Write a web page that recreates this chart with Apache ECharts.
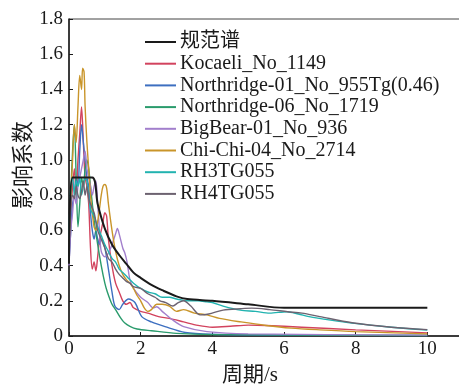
<!DOCTYPE html>
<html>
<head>
<meta charset="utf-8">
<script src="https://cdn.jsdelivr.net/npm/echarts@6/dist/echarts.min.js"></script>
<style>html,body{margin:0;padding:0;background:#fff}#c{width:459px;height:387px}</style>
</head>
<body>
<div id="c"></div>
<script>
const seriesNames = ['规范谱','Kocaeli_No_1149','Northridge-01_No_955Tg(0.46)','Northridge-06_No_1719','BigBear-01_No_936','Chi-Chi-04_No_2714','RH3TG055','RH4TG055'];
const seriesColors = ['#1a1a1a','#d2435e','#3d6fc0','#2a9b6c','#a27fcc','#c9952a','#22b3b0','#6c6270'];
const xTicks = [0,2,4,6,8,10];
const yTicks = [0,0.2,0.4,0.6,0.8,1.0,1.2,1.4,1.6,1.8];

const codeSpectrum = [[0,0.41],[0.1,0.9],[0.65,0.9],[0.8,0.75],[1.0,0.61],[1.2,0.52],[1.4,0.46],[1.6,0.41],[1.8,0.36],[2.0,0.33],[2.3,0.29],[2.6,0.26],[3.0,0.225],[3.3,0.21],[4,0.2],[5,0.18],[6,0.16],[10,0.16]];
const kocaeli = [[0,0.45],[0.05,0.7],[0.1,0.85],[0.15,0.95],[0.2,0.8],[0.25,1.0],[0.3,1.15],[0.35,1.3],[0.4,1.1],[0.45,0.9],[0.5,0.85],[0.55,0.75],[0.6,0.5],[0.65,0.38],[0.7,0.42],[0.75,0.37],[0.8,0.45],[0.85,0.55],[0.9,0.6],[0.95,0.65],[1.0,0.7],[1.05,0.68],[1.1,0.55],[1.2,0.4],[1.3,0.3],[1.4,0.25],[1.5,0.2],[1.6,0.18],[1.7,0.19],[1.8,0.16],[2.0,0.14],[2.2,0.13],[2.5,0.11],[2.8,0.1],[3.2,0.08],[3.6,0.06],[4,0.05],[4.5,0.055],[5,0.062],[5.5,0.06],[6.5,0.05],[8,0.035],[10,0.018]];
const northridge01 = [[0,0.42],[0.05,0.6],[0.1,0.75],[0.15,0.8],[0.2,0.9],[0.25,0.85],[0.3,1.05],[0.35,1.2],[0.4,1.1],[0.45,1.0],[0.5,0.9],[0.55,0.85],[0.6,0.7],[0.65,0.6],[0.7,0.55],[0.75,0.6],[0.8,0.55],[0.85,0.52],[0.9,0.55],[1.0,0.5],[1.1,0.38],[1.2,0.25],[1.28,0.17],[1.4,0.15],[1.5,0.18],[1.66,0.21],[1.84,0.19],[2.03,0.11],[2.3,0.08],[2.68,0.053],[3.24,0.02],[4,0.01],[6,0.005],[10,0.003]];
const northridge06 = [[0,0.45],[0.05,0.8],[0.1,1.05],[0.15,1.2],[0.2,0.9],[0.25,0.62],[0.3,0.75],[0.35,0.9],[0.4,0.85],[0.45,0.95],[0.5,1.0],[0.55,0.95],[0.6,0.85],[0.7,0.66],[0.8,0.52],[0.9,0.4],[1.0,0.3],[1.07,0.25],[1.2,0.18],[1.3,0.15],[1.45,0.1],[1.55,0.075],[1.7,0.055],[1.9,0.04],[2.3,0.03],[3,0.015],[4,0.008],[10,0.003]];
const bigBear = [[0,0.4],[0.05,0.6],[0.1,0.7],[0.15,0.8],[0.2,0.75],[0.25,0.85],[0.3,0.9],[0.35,0.95],[0.4,1.0],[0.45,1.05],[0.5,0.95],[0.55,0.9],[0.6,0.85],[0.65,0.8],[0.7,0.85],[0.75,0.88],[0.8,0.75],[0.85,0.6],[0.9,0.48],[1.0,0.45],[1.1,0.47],[1.2,0.52],[1.3,0.58],[1.35,0.61],[1.4,0.58],[1.5,0.5],[1.56,0.47],[1.62,0.42],[1.7,0.32],[1.8,0.27],[2.0,0.22],[2.2,0.19],[2.35,0.16],[2.45,0.166],[2.6,0.14],[2.9,0.09],[3.2,0.053],[3.85,0.025],[5,0.012],[10,0.005]];
const chiChi = [[0,0.5],[0.05,0.8],[0.1,1.0],[0.15,1.2],[0.2,1.1],[0.25,1.3],[0.3,1.48],[0.35,1.4],[0.38,1.52],[0.42,1.5],[0.45,1.3],[0.5,1.1],[0.55,0.95],[0.6,0.8],[0.65,0.7],[0.7,0.62],[0.75,0.6],[0.8,0.65],[0.85,0.72],[0.9,0.8],[0.95,0.85],[1.0,0.86],[1.05,0.84],[1.1,0.75],[1.2,0.6],[1.3,0.48],[1.4,0.4],[1.5,0.35],[1.6,0.32],[1.7,0.3],[1.8,0.27],[1.9,0.23],[2.0,0.2],[2.1,0.16],[2.2,0.14],[2.3,0.15],[2.45,0.18],[2.6,0.18],[2.8,0.17],[3.0,0.14],[3.2,0.15],[3.5,0.13],[3.85,0.12],[4.2,0.1],[4.8,0.08],[5.5,0.06],[6.2,0.045],[7,0.035],[8,0.025],[10,0.012]];
const rh3 = [[0,0.55],[0.05,0.85],[0.1,0.9],[0.15,0.8],[0.2,0.88],[0.25,0.85],[0.3,0.9],[0.35,0.8],[0.4,0.85],[0.45,0.9],[0.5,0.88],[0.55,0.8],[0.6,0.72],[0.7,0.68],[0.8,0.62],[0.9,0.57],[1.0,0.52],[1.1,0.48],[1.2,0.44],[1.3,0.42],[1.4,0.38],[1.5,0.36],[1.6,0.34],[1.7,0.32],[1.8,0.3],[2.0,0.27],[2.2,0.25],[2.4,0.24],[2.6,0.22],[2.8,0.22],[3.0,0.21],[3.3,0.2],[3.6,0.2],[3.85,0.194],[4.0,0.19],[4.3,0.17],[4.78,0.147],[5.2,0.14],[5.6,0.13],[6.08,0.138],[6.4,0.125],[6.7,0.11],[7.3,0.09],[7.9,0.073],[9,0.05],[10,0.034]];
const rh4 = [[0,0.5],[0.05,0.75],[0.1,0.8],[0.15,0.78],[0.2,0.85],[0.25,0.8],[0.3,0.78],[0.35,0.82],[0.4,0.88],[0.45,0.8],[0.5,0.85],[0.55,0.78],[0.6,0.75],[0.7,0.7],[0.8,0.6],[0.9,0.55],[1.0,0.5],[1.1,0.44],[1.2,0.42],[1.3,0.38],[1.4,0.35],[1.5,0.33],[1.6,0.31],[1.7,0.3],[1.8,0.28],[2.0,0.27],[2.2,0.24],[2.4,0.22],[2.54,0.2],[2.7,0.19],[2.9,0.17],[3.05,0.19],[3.2,0.2],[3.4,0.17],[3.66,0.12],[3.9,0.125],[4.3,0.147],[4.8,0.155],[5.1,0.158],[5.6,0.15],[6.1,0.138],[6.5,0.13],[7,0.11],[7.9,0.075],[9,0.05],[10,0.036]];

const seriesData = [codeSpectrum,kocaeli,northridge01,northridge06,bigBear,chiChi,rh3,rh4];

const FONT = "'Liberation Serif','Noto Sans CJK SC',serif";
const chart = echarts.init(document.getElementById('c'));
const order = [1,2,3,4,5,6,7,0];
chart.setOption({
  animation:false,
  backgroundColor:'#fff',
  grid:{left:69,top:19,width:430,height:317,show:true,borderColor:'#444',borderWidth:1,containLabel:false,outerBoundsMode:'none'},
  legend:{
    orient:'vertical',left:140,top:27,
    data:seriesNames,
    icon:'rect',itemWidth:31,itemHeight:2,itemGap:1.7,
    textStyle:{fontFamily:FONT,fontSize:20,lineHeight:20,color:'#1a1a1a',padding:[0,0,0,-1]}
  },
  xAxis:{type:'value',min:0,max:12,interval:2,
    axisLine:{lineStyle:{color:'#1a1a1a',width:1.5}},
    axisTick:{inside:true,length:4,lineStyle:{color:'#1a1a1a'}},
    splitLine:{show:false},
    axisLabel:{margin:4,fontFamily:FONT,fontSize:19,color:'#1a1a1a',
      formatter:v=>xTicks.indexOf(v)>=0?String(v):''}
  },
  yAxis:{type:'value',min:0,max:1.8,interval:0.2,
    axisLine:{show:true,lineStyle:{color:'#1a1a1a',width:1.5}},
    axisTick:{show:true,inside:true,length:4,lineStyle:{color:'#1a1a1a'}},
    splitLine:{show:false},
    axisLabel:{margin:6,fontFamily:FONT,fontSize:19,color:'#1a1a1a',
      formatter:v=>{const t=yTicks.find(k=>Math.abs(k-v)<1e-6);return t===0?'0':t.toFixed(1);}}
  },
  graphic:[
    {type:'text',left:222,top:365,style:{text:'周期/s',font:"21px 'Liberation Serif','Noto Sans CJK SC'",fill:'#1a1a1a'}},
    {type:'text',x:22,y:165,rotation:Math.PI/2,style:{text:'影响系数',font:"22px 'Noto Sans CJK SC'",fill:'#1a1a1a',align:'center',verticalAlign:'middle'}}
  ],
  series:order.map(i=>({
    name:seriesNames[i],type:'line',data:seriesData[i],symbol:'none',smooth:0.3,
    lineStyle:{color:seriesColors[i],width:i===0?2:1.4},
    itemStyle:{color:seriesColors[i]},z:i===0?3:2
  }))
});
</script>
</body>
</html>
